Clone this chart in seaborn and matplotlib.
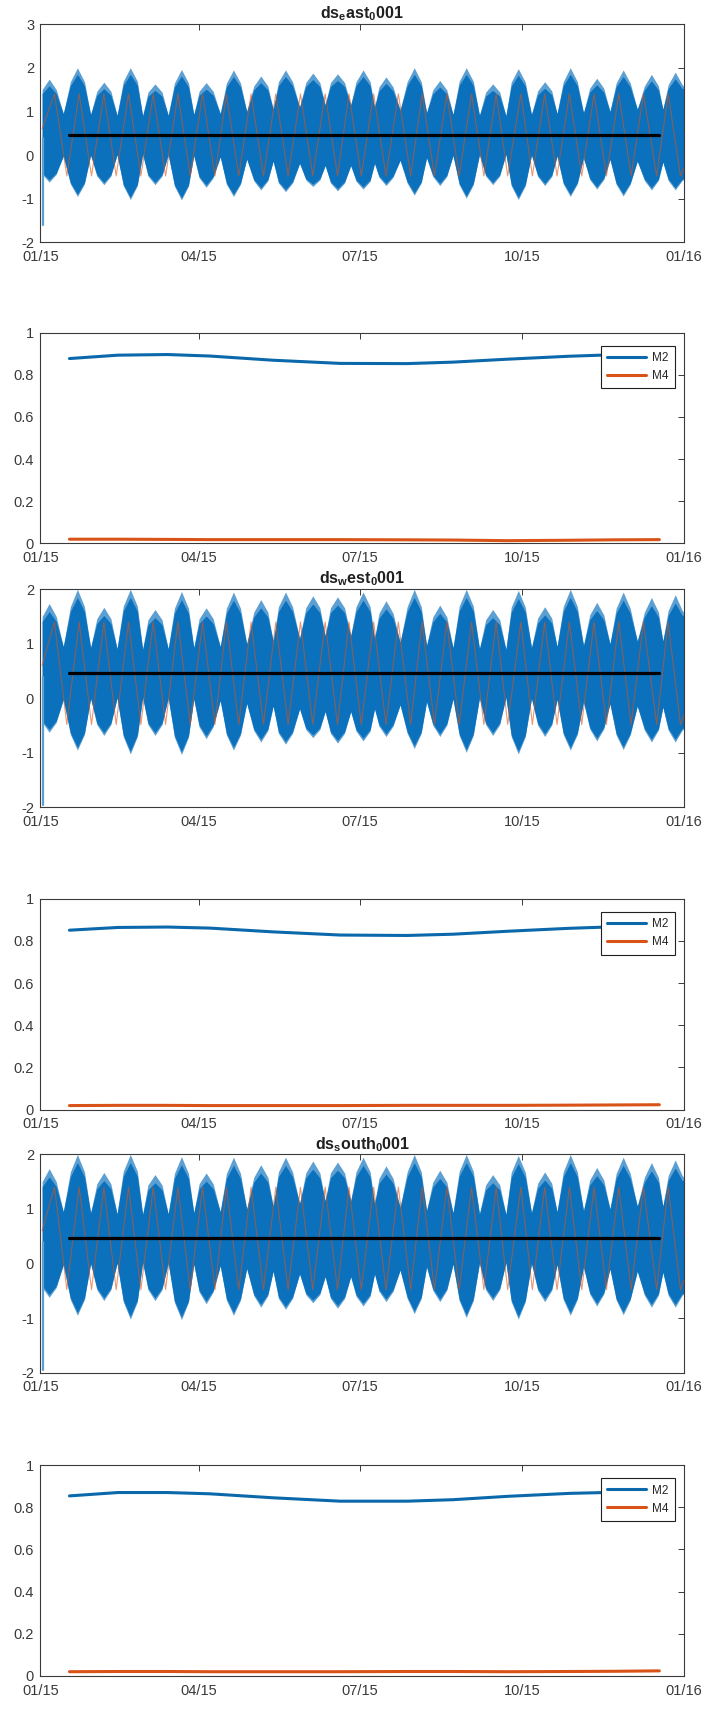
import numpy as np
import pandas as pd
import matplotlib
matplotlib.use("Agg")
import matplotlib.pyplot as plt
import seaborn as sns

# ---------------- data ----------------
start = pd.Timestamp("2015-01-01")

series_titles = [r"$\mathbf{ds_{e}ast_{0}001}$",
                 r"$\mathbf{ds_{w}est_{0}001}$",
                 r"$\mathbf{ds_{s}outh_{0}001}$"]
series_ylims = [(-2, 3), (-2, 2), (-2, 2)]
spike_min = [-1.6, -1.95, -1.95]

# spring-tide lobes of the water-level band (day of year, upper / lower envelope)
lobe_days = [5, 21, 36, 51, 65, 80, 94, 109.5, 125, 139, 154.5, 168.5, 183,
             196, 212, 226.5, 241.5, 256.5, 271, 286, 300.5, 315.5, 330.5, 346.5, 360]
lobe_top = [1.74, 2.0, 1.67, 2.0, 1.63, 1.96, 1.66, 1.95, 1.81, 1.95, 1.88, 1.86, 1.95,
            1.79, 2.0, 1.71, 2.0, 1.63, 1.98, 1.68, 2.0, 1.76, 1.95, 1.85, 1.90]
lobe_bottom = [-0.62, -0.95, -0.68, -1.02, -0.68, -1.03, -0.74, -0.95, -0.80, -0.84, -0.72,
               -0.82, -0.78, -0.70, -0.92, -0.70, -0.99, -0.68, -1.02, -0.70, -0.95, -0.78,
               -0.94, -0.80, -0.80]
# flanks of each lobe, about four days either side of its crest
flank_offset = 4.0
flank_top = [1.50, 1.68, 1.46, 1.69, 1.44, 1.65, 1.46, 1.65, 1.58, 1.68, 1.66, 1.66, 1.68,
             1.56, 1.68, 1.49, 1.69, 1.44, 1.67, 1.47, 1.68, 1.53, 1.65, 1.58, 1.61]
flank_bottom = [-0.44, -0.66, -0.48, -0.70, -0.48, -0.71, -0.52, -0.67, -0.59, -0.64, -0.57,
                -0.64, -0.60, -0.51, -0.64, -0.49, -0.68, -0.48, -0.70, -0.49, -0.66, -0.56,
                -0.67, -0.58, -0.58]
# neap-tide pinches between lobes
neap_days = [13, 28.5, 43.5, 58, 72.5, 87, 102, 117, 132, 147, 161.5, 176, 189.5, 204,
             219, 234, 249, 264, 278.5, 293, 308, 323, 338.5, 353]
neap_top = [0.95, 0.93, 0.91, 0.90, 0.91, 0.93, 0.95, 1.0, 1.05, 1.10, 1.15, 1.15, 1.10,
            1.03, 0.97, 0.93, 0.91, 0.90, 0.93, 0.95, 0.97, 1.0, 1.05, 1.05]
neap_bottom = [-0.02, 0.0, 0.01, 0.02, 0.01, -0.01, -0.04, -0.09, -0.14, -0.19, -0.24,
               -0.24, -0.19, -0.12, -0.06, -0.01, 0.01, 0.02, 0.0, -0.02, -0.06, -0.10,
               -0.14, -0.16]
edge_days = [1.0, 365.0]
edge_top = [1.15, 1.58]
edge_bottom = [-0.55, -0.56]
light_margin_top = 0.15
light_margin_bottom = 0.05

# reconstructed tide (orange) extremes
orange_days = [1, 8, 15, 22, 29, 36, 43, 50, 57, 64, 71, 78, 85, 92, 99, 105.5, 112.5,
               119.5, 126.5, 133.5, 140.5, 147.5, 154.5, 161.5, 168.5, 175, 182, 189, 196,
               203, 210, 216.5, 223.5, 230.5, 237.5, 244.5, 251.5, 258.5, 265, 272.5, 279,
               286, 293, 300, 307, 314, 321, 328, 335, 342, 349.5, 356, 363, 365]
orange_vals = [0.6, 1.4, -0.48, 1.4, -0.48, 1.4, -0.48, 1.4, -0.48, 1.4, -0.48, 1.4, -0.48,
               1.4, -0.48, 1.4, -0.48, 1.4, -0.48, 1.4, -0.48, 1.4, -0.48, 1.4, -0.48, 1.4,
               -0.48, 1.4, -0.48, 1.4, -0.48, 1.4, -0.48, 1.4, -0.48, 1.4, -0.48, 1.4, -0.48,
               1.4, -0.48, 1.4, -0.48, 1.4, -0.48, 1.4, -0.48, 1.4, -0.48, 1.4, -0.48, 1.4,
               -0.48, -0.3]

mean_days = [16.5, 351]
mean_level = [0.46, 0.46, 0.46]

# harmonic amplitudes
amp_days = [16.5, 44, 72, 96, 132, 170, 208, 234, 265, 300, 325, 351]
m2_amp = [
    [0.877, 0.893, 0.896, 0.889, 0.869, 0.854, 0.853, 0.860, 0.874, 0.888, 0.895, 0.902],
    [0.851, 0.864, 0.866, 0.861, 0.843, 0.828, 0.826, 0.832, 0.846, 0.860, 0.867, 0.873],
    [0.854, 0.870, 0.870, 0.864, 0.845, 0.829, 0.829, 0.836, 0.852, 0.866, 0.871, 0.875],
]
m4_amp = [
    [0.020, 0.020, 0.019, 0.018, 0.018, 0.018, 0.017, 0.016, 0.013, 0.015, 0.017, 0.018],
    [0.019, 0.020, 0.020, 0.019, 0.019, 0.019, 0.020, 0.020, 0.020, 0.021, 0.022, 0.023],
    [0.020, 0.021, 0.021, 0.020, 0.020, 0.020, 0.021, 0.021, 0.020, 0.021, 0.022, 0.024],
]

xtick_dates = ["2015-01-01", "2015-04-01", "2015-07-01", "2015-10-01", "2016-01-01"]
xtick_labels = ["01/15", "04/15", "07/15", "10/15", "01/16"]

# ---------------- style ----------------
sns.set_theme(style="white")
plt.rcParams["font.family"] = ["Liberation Sans", "DejaVu Sans"]
plt.rcParams["mathtext.fontset"] = "custom"
plt.rcParams["mathtext.rm"] = "Liberation Sans"
plt.rcParams["mathtext.bf"] = "Liberation Sans:bold"
plt.rcParams["mathtext.it"] = "Liberation Sans:italic"
plt.rcParams["axes.unicode_minus"] = False

BLUE = "#0b71bc"
LIGHT = "#5c9fd2"
ORANGE = "#d95319"
AXC = "#3a3a3a"


def to_dates(days):
    return start + pd.to_timedelta(np.asarray(days, dtype=float), unit="D")


def style_axes(ax):
    ax.set_xlim(pd.Timestamp("2015-01-01"), pd.Timestamp("2016-01-01"))
    ax.set_xticks(pd.to_datetime(xtick_dates))
    ax.set_xticklabels(xtick_labels)
    ax.tick_params(direction="in", top=True, right=True, length=4.5, width=0.7,
                   colors=AXC, labelsize=10.5)
    ax.tick_params(axis="x", pad=5.5)
    ax.tick_params(axis="y", pad=4.5)
    for sp in ax.spines.values():
        sp.set_color(AXC)
        sp.set_linewidth(0.8)
    ax.set_xlabel("")
    ax.set_ylabel("")
    ax.grid(False)


fig = plt.figure(figsize=(7.07, 17.11), dpi=100)
left, width = 0.0571, 0.9104
series_pos = [0.8584, 0.5281, 0.1978]
series_h = 0.1275
amp_pos = [0.6824, 0.3515, 0.0205]
amp_h = 0.1232

# envelope assembled from the read points
kind = (["edge"] * len(edge_days) + ["lobe"] * len(lobe_days)
        + ["flank"] * (2 * len(lobe_days)) + ["neap"] * len(neap_days))
env = pd.DataFrame({
    "day": list(edge_days) + lobe_days
           + [d - flank_offset for d in lobe_days] + [d + flank_offset for d in lobe_days]
           + neap_days,
    "top": list(edge_top) + lobe_top + flank_top + flank_top + neap_top,
    "bottom": list(edge_bottom) + lobe_bottom + flank_bottom + flank_bottom + neap_bottom,
    "kind": kind,
}).sort_values("day")
env_dates = to_dates(env["day"])
shade = env["kind"].map({"edge": 0.3, "lobe": 1.0, "flank": 0.6, "neap": 0.0})
dark_top = env["top"] - light_margin_top * shade
dark_bottom = env["bottom"] + light_margin_bottom * shade
orange_df = pd.DataFrame({"date": to_dates(orange_days), "v": orange_vals})

for i in range(3):
    ax = fig.add_axes([left, series_pos[i], width, series_h])
    ax.fill_between(env_dates, env["bottom"], env["top"], color=LIGHT, lw=0)
    ax.fill_between(env_dates, dark_bottom, dark_top, color=BLUE, lw=0)
    sns.lineplot(data=orange_df, x="date", y="v", ax=ax, color=ORANGE, lw=0.8,
                 alpha=0.6, estimator=None, sort=False)
    sns.lineplot(x=to_dates([1.6, 1.6]), y=[0.4, spike_min[i]], ax=ax,
                 color=LIGHT, lw=1.6, estimator=None)
    sns.lineplot(x=to_dates(mean_days), y=[mean_level[i]] * 2, ax=ax,
                 color="black", lw=2.3, estimator=None)
    ax.set_ylim(*series_ylims[i])
    ax.set_yticks(range(series_ylims[i][0], series_ylims[i][1] + 1))
    style_axes(ax)
    ax.set_title(series_titles[i], fontsize=11.5, pad=4, color="#202020")

    ax2 = fig.add_axes([left, amp_pos[i], width, amp_h])
    amp_df = pd.DataFrame({"date": list(to_dates(amp_days)) * 2,
                           "amp": m2_amp[i] + m4_amp[i],
                           "const": ["M2"] * len(amp_days) + ["M4"] * len(amp_days)})
    sns.lineplot(data=amp_df, x="date", y="amp", hue="const",
                 palette={"M2": "#0a68ab", "M4": ORANGE}, ax=ax2, lw=2.2,
                 estimator=None)
    ax2.set_ylim(0, 1)
    ax2.set_yticks([0, 0.2, 0.4, 0.6, 0.8, 1.0])
    ax2.set_yticklabels(["0", "0.2", "0.4", "0.6", "0.8", "1"])
    style_axes(ax2)
    leg = ax2.legend(loc="upper right", bbox_to_anchor=(1.006, 1), borderaxespad=1.1,
                     fontsize=8.5, handlelength=3.3, frameon=True, fancybox=False,
                     borderpad=0.55, labelspacing=0.5, handletextpad=0.5)
    leg.get_frame().set_edgecolor("#202020")
    leg.get_frame().set_linewidth(0.8)
    leg.get_frame().set_alpha(1)

fig.savefig("out.png", dpi=100)
